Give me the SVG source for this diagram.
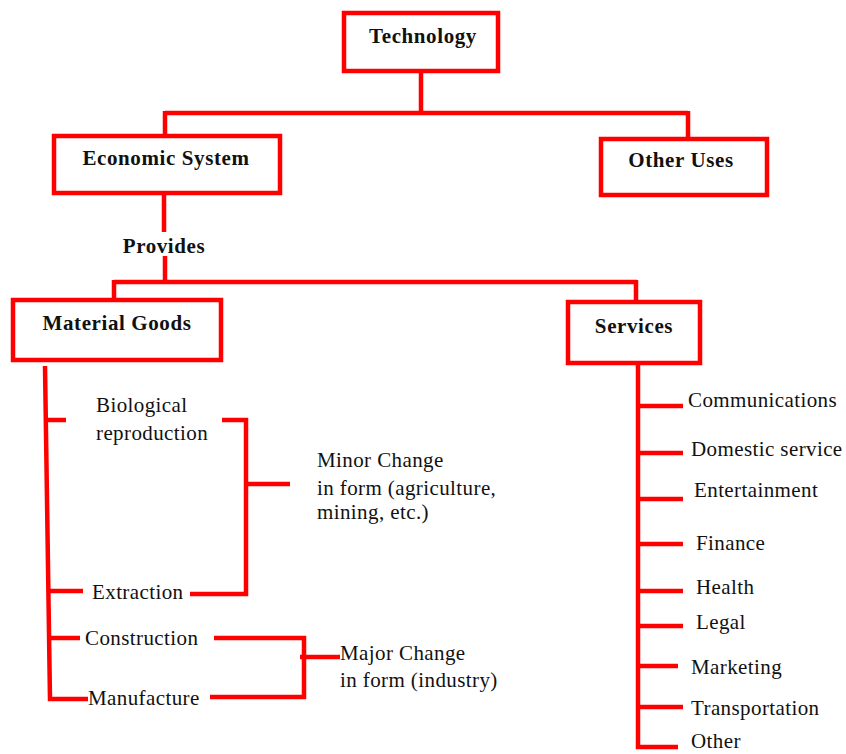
<svg xmlns="http://www.w3.org/2000/svg" width="846" height="754" viewBox="0 0 846 754">
<style>
.box{fill:#fff;stroke:#ff0000;stroke-width:4.5}
.ln{fill:none;stroke:#ff0000;stroke-width:4.5;stroke-linejoin:miter}
.b{font-family:"Liberation Serif",serif;font-weight:bold;font-size:21px;letter-spacing:0.6px;fill:#111}
.t{font-family:"Liberation Serif",serif;font-size:21px;letter-spacing:0.4px;fill:#111}
</style>
<rect width="846" height="754" fill="#fff"/>
<g id="connectors">
<path class="ln" d="M421,71 V113 M165,113 H688 M165,111 V136 M688,111 V139"/>
<path class="ln" d="M164,193 V232 M165,256 V282 M114,282 H637 M114,280 V300 M636,280 V302"/>
<path class="ln" d="M45,366 L50,699 H88"/>
<path class="ln" d="M48,420 H66 M48,591 H83 M49,638 H80"/>
<path class="ln" d="M222,420 H246 V594 H190 M246,484 H290"/>
<path class="ln" d="M214,638 H304 V697 H210 M300,657 H340"/>
<path class="ln" d="M638,363 V747 H678 M638,406 H683 M638,453 H683 M638,499 H683 M638,544 H683 M638,591 H683 M638,626 H683 M638,666 H678 M638,707 H683"/>
</g>
<g id="technology"><rect class="box" x="344" y="13" width="154" height="58"/><text class="b" x="423" y="43" text-anchor="middle">Technology</text></g>
<g id="economic-system"><rect class="box" x="54" y="136" width="226" height="57"/><text class="b" x="166" y="165" text-anchor="middle">Economic System</text></g>
<g id="other-uses"><rect class="box" x="601" y="139" width="166" height="56"/><text class="b" x="681" y="167" text-anchor="middle">Other Uses</text></g>
<g id="provides"><text class="b" x="164" y="253" text-anchor="middle">Provides</text></g>
<g id="material-goods"><rect class="box" x="13" y="300" width="208" height="60"/><text class="b" x="117" y="330" text-anchor="middle">Material Goods</text></g>
<g id="services"><rect class="box" x="568" y="302" width="132" height="61"/><text class="b" x="634" y="333" text-anchor="middle">Services</text></g>
<g id="biological"><text class="t" x="96" y="412">Biological</text><text class="t" x="96" y="440">reproduction</text></g>
<g id="minor-change"><text class="t" x="317" y="467">Minor Change</text><text class="t" x="317" y="495">in form (agriculture,</text><text class="t" x="317" y="519">mining, etc.)</text></g>
<g id="extraction"><text class="t" x="92" y="599">Extraction</text></g>
<g id="construction"><text class="t" x="85" y="645">Construction</text></g>
<g id="manufacture"><text class="t" x="88" y="705">Manufacture</text></g>
<g id="major-change"><text class="t" x="340" y="660">Major Change</text><text class="t" x="340" y="687">in form (industry)</text></g>
<g id="communications"><text class="t" x="688" y="407">Communications</text></g>
<g id="domestic"><text class="t" x="691" y="456">Domestic service</text></g>
<g id="entertainment"><text class="t" x="694" y="497">Entertainment</text></g>
<g id="finance"><text class="t" x="696" y="550">Finance</text></g>
<g id="health"><text class="t" x="696" y="594">Health</text></g>
<g id="legal"><text class="t" x="696" y="629">Legal</text></g>
<g id="marketing"><text class="t" x="691" y="674">Marketing</text></g>
<g id="transportation"><text class="t" x="691" y="715">Transportation</text></g>
<g id="other"><text class="t" x="691" y="748">Other</text></g>
</svg>
